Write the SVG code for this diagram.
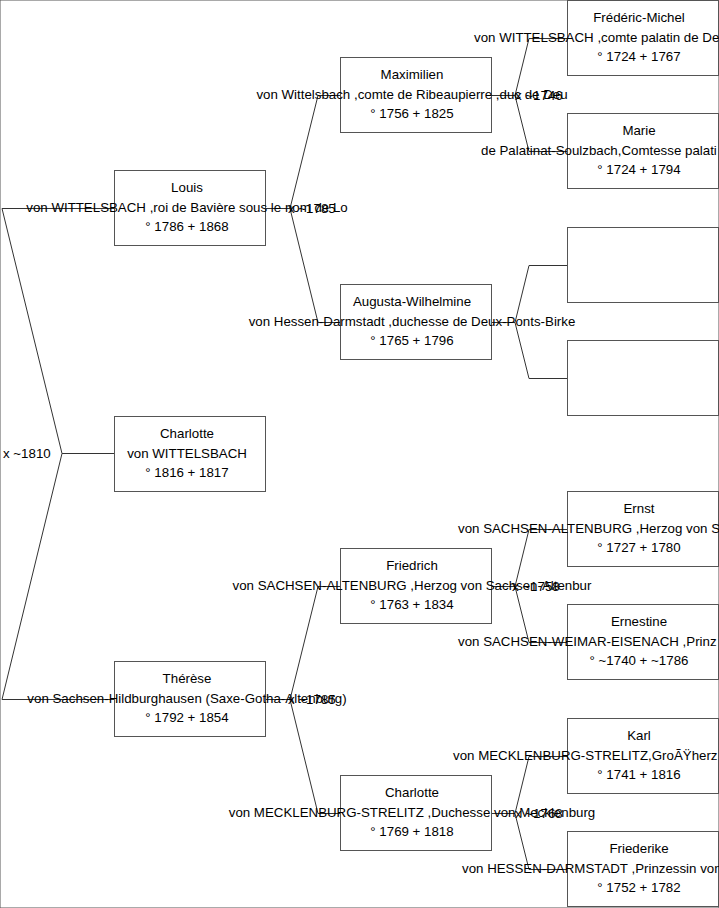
<svg xmlns="http://www.w3.org/2000/svg" width="719" height="908" viewBox="0 0 719 908">
<style>
text{font-family:"Liberation Sans",Arial,sans-serif;font-size:13.3px;fill:#000}
.c{text-anchor:middle}
rect{fill:#fff;stroke:#555;stroke-width:1}
#connectors path{fill:none;stroke:#333;stroke-width:1}
</style>
<rect x="0" y="0" width="719" height="908" fill="#fff" stroke="none"/>
<g id="connectors">
<path d="M114,208.5 H2 L62,453.5 L2,699.5 H114 M62,453.5 H114"/>
<path d="M265,208.5 H290 M340,95.5 H318 L290,208.5 L318,322.5 H340"/>
<path d="M265,699.5 H290 M340,586.5 H318 L290,699.5 L318,813.5 H340"/>
<path d="M491,95.5 H515 M567,38.5 H529 L515,95.5 L529,151.5 H567"/>
<path d="M491,322.5 H515 M567,265.5 H529 L515,322.5 L529,378.5 H567"/>
<path d="M491,586.5 H515 M567,529.5 H529 L515,586.5 L529,642.5 H567"/>
<path d="M491,813.5 H515 M567,756.5 H529 L515,813.5 L529,869.5 H567"/>
</g>
<g id="labels">
<text x="3" y="458">x ~1810</text>
<text x="288" y="212.5">x ~1785</text>
<text x="288" y="703.5">x ~1785</text>
<text x="515" y="99.5">x ~1746</text>
<text x="512" y="590.5">x ~1758</text>
<text x="515" y="817.5">x ~1768</text>
</g>
<g id="charlotte">
<rect x="114.5" y="416.5" width="151" height="75"/>
<text class="c" x="187" y="437.5">Charlotte</text>
<text class="c" x="187" y="457.5">von WITTELSBACH</text>
<text class="c" x="187" y="477">° 1816 + 1817</text>
</g>
<g id="louis">
<rect x="114.5" y="170.5" width="151" height="75"/>
<text class="c" x="187" y="191.5">Louis</text>
<text class="c" x="187" y="211.5">von WITTELSBACH ,roi de Bavière sous le nom de Lo</text>
<text class="c" x="187" y="231">° 1786 + 1868</text>
</g>
<g id="therese">
<rect x="114.5" y="661.5" width="151" height="75"/>
<text class="c" x="187" y="682.5">Thérèse</text>
<text class="c" x="187" y="702.5">von Sachsen-Hildburghausen (Saxe-Gotha-Altenburg)</text>
<text class="c" x="187" y="722">° 1792 + 1854</text>
</g>
<g id="maximilien">
<rect x="340.5" y="57.5" width="151" height="75"/>
<text class="c" x="412" y="78.5">Maximilien</text>
<text class="c" x="412" y="98.5">von Wittelsbach ,comte de Ribeaupierre ,duc de Deu</text>
<text class="c" x="412" y="118">° 1756 + 1825</text>
</g>
<g id="augusta">
<rect x="340.5" y="284.5" width="151" height="75"/>
<text class="c" x="412" y="305.5">Augusta-Wilhelmine</text>
<text class="c" x="412" y="325.5">von Hessen-Darmstadt ,duchesse de Deux-Ponts-Birke</text>
<text class="c" x="412" y="345">° 1765 + 1796</text>
</g>
<g id="friedrich">
<rect x="340.5" y="548.5" width="151" height="75"/>
<text class="c" x="412" y="569.5">Friedrich</text>
<text class="c" x="412" y="589.5">von SACHSEN-ALTENBURG ,Herzog von Sachsen-Altenbur</text>
<text class="c" x="412" y="609">° 1763 + 1834</text>
</g>
<g id="charlotte-m">
<rect x="340.5" y="775.5" width="151" height="75"/>
<text class="c" x="412" y="796.5">Charlotte</text>
<text class="c" x="412" y="816.5">von MECKLENBURG-STRELITZ ,Duchesse von Mecklenburg</text>
<text class="c" x="412" y="836">° 1769 + 1818</text>
</g>
<g id="frederic-michel">
<rect x="567.5" y="0.5" width="151" height="75"/>
<text class="c" x="639" y="21.5">Frédéric-Michel</text>
<text x="474" y="41.5">von WITTELSBACH ,comte palatin de De</text>
<text class="c" x="639" y="61">° 1724 + 1767</text>
</g>
<g id="marie">
<rect x="567.5" y="113.5" width="151" height="75"/>
<text class="c" x="639" y="134.5">Marie</text>
<text x="481" y="154.5">de Palatinat-Soulzbach,Comtesse palati</text>
<text class="c" x="639" y="174">° 1724 + 1794</text>
</g>
<g id="unknown1">
<rect x="567.5" y="227.5" width="151" height="75"/>
</g>
<g id="unknown2">
<rect x="567.5" y="340.5" width="151" height="75"/>
</g>
<g id="ernst">
<rect x="567.5" y="491.5" width="151" height="75"/>
<text class="c" x="639" y="512.5">Ernst</text>
<text x="458" y="532.5">von SACHSEN-ALTENBURG ,Herzog von S</text>
<text class="c" x="639" y="552">° 1727 + 1780</text>
</g>
<g id="ernestine">
<rect x="567.5" y="604.5" width="151" height="75"/>
<text class="c" x="639" y="625.5">Ernestine</text>
<text x="458" y="645.5">von SACHSEN-WEIMAR-EISENACH ,Prinz</text>
<text class="c" x="639" y="665">° ~1740 + ~1786</text>
</g>
<g id="karl">
<rect x="567.5" y="718.5" width="151" height="75"/>
<text class="c" x="639" y="739.5">Karl</text>
<text x="453" y="759.5">von MECKLENBURG-STRELITZ,GroÃŸherz</text>
<text class="c" x="639" y="779">° 1741 + 1816</text>
</g>
<g id="friederike">
<rect x="567.5" y="831.5" width="151" height="75"/>
<text class="c" x="639" y="852.5">Friederike</text>
<text x="462" y="872.5">von HESSEN-DARMSTADT ,Prinzessin von</text>
<text class="c" x="639" y="892">° 1752 + 1782</text>
</g>
</svg>
